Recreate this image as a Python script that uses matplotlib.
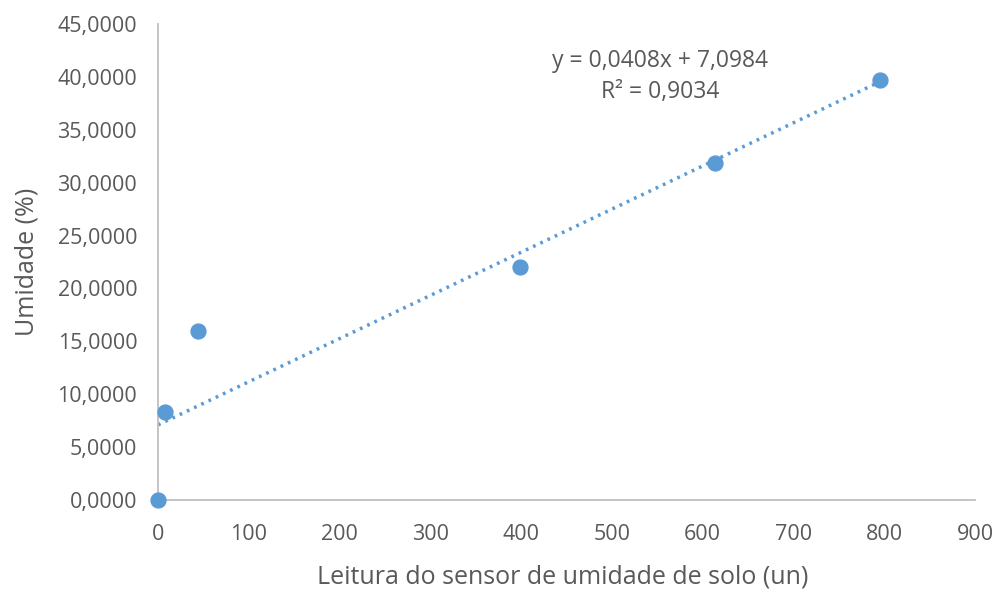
import numpy as np
import matplotlib.pyplot as plt
from matplotlib.ticker import FuncFormatter

# leituras do sensor e umidade medida
leitura = [0, 8, 44, 399, 613, 795]
umidade = [0.0, 8.3, 16.0, 22.0, 31.9, 39.7]

# linha de tendência (Excel)
coef_a = 0.0408
coef_b = 7.0984
r2 = 0.9034

plt.rcParams['font.family'] = ['Open Sans', 'DejaVu Sans']
cinza = '#595959'
azul = '#5B9BD5'

def virgula(v):
    return ('%.4f' % v).replace('.', ',')

fig = plt.figure(figsize=(9.95, 5.92), dpi=100)
ax = fig.add_axes([0.1588, 0.1554, 0.8212, 0.8041])

xt = np.array([0, max(leitura)])
ax.plot(xt, coef_a * xt + coef_b, color=azul, lw=2.5, linestyle=(0, (0.8, 1.5)), zorder=2)
ax.scatter(leitura, umidade, s=115, color=azul, zorder=3, clip_on=False)

ax.set_xlim(0, 900)
ax.set_ylim(0, 45)
ax.set_xticks(range(0, 901, 100))
ax.set_yticks(np.arange(0, 45.1, 5))
ax.yaxis.set_major_formatter(FuncFormatter(lambda v, p: virgula(v)))

for s in ['top', 'right']:
    ax.spines[s].set_visible(False)
for s in ['left', 'bottom']:
    ax.spines[s].set_color('#BFBFBF')
    ax.spines[s].set_linewidth(1.3)
ax.tick_params(length=0, labelsize=15.5, colors=cinza)
ax.tick_params(axis='y', pad=15)
ax.tick_params(axis='x', pad=17)

ax.set_xlabel('Leitura do sensor de umidade de solo (un)', fontsize=18, color=cinza, va='center')
ax.xaxis.set_label_coords(0.4957, -0.162)
ax.set_ylabel('Umidade (%)', fontsize=18, color=cinza, va='center')
ax.yaxis.set_label_coords(-0.160, 0.5)

ax.text(0.6144, 0.8897, 'y = ' + virgula(coef_a) + 'x + ' + virgula(coef_b) + '\nR² = ' + virgula(r2),
        transform=ax.transAxes, ha='center', va='center', fontsize=16.5, color=cinza, linespacing=1.4)

fig.savefig('out.png', dpi=100)
